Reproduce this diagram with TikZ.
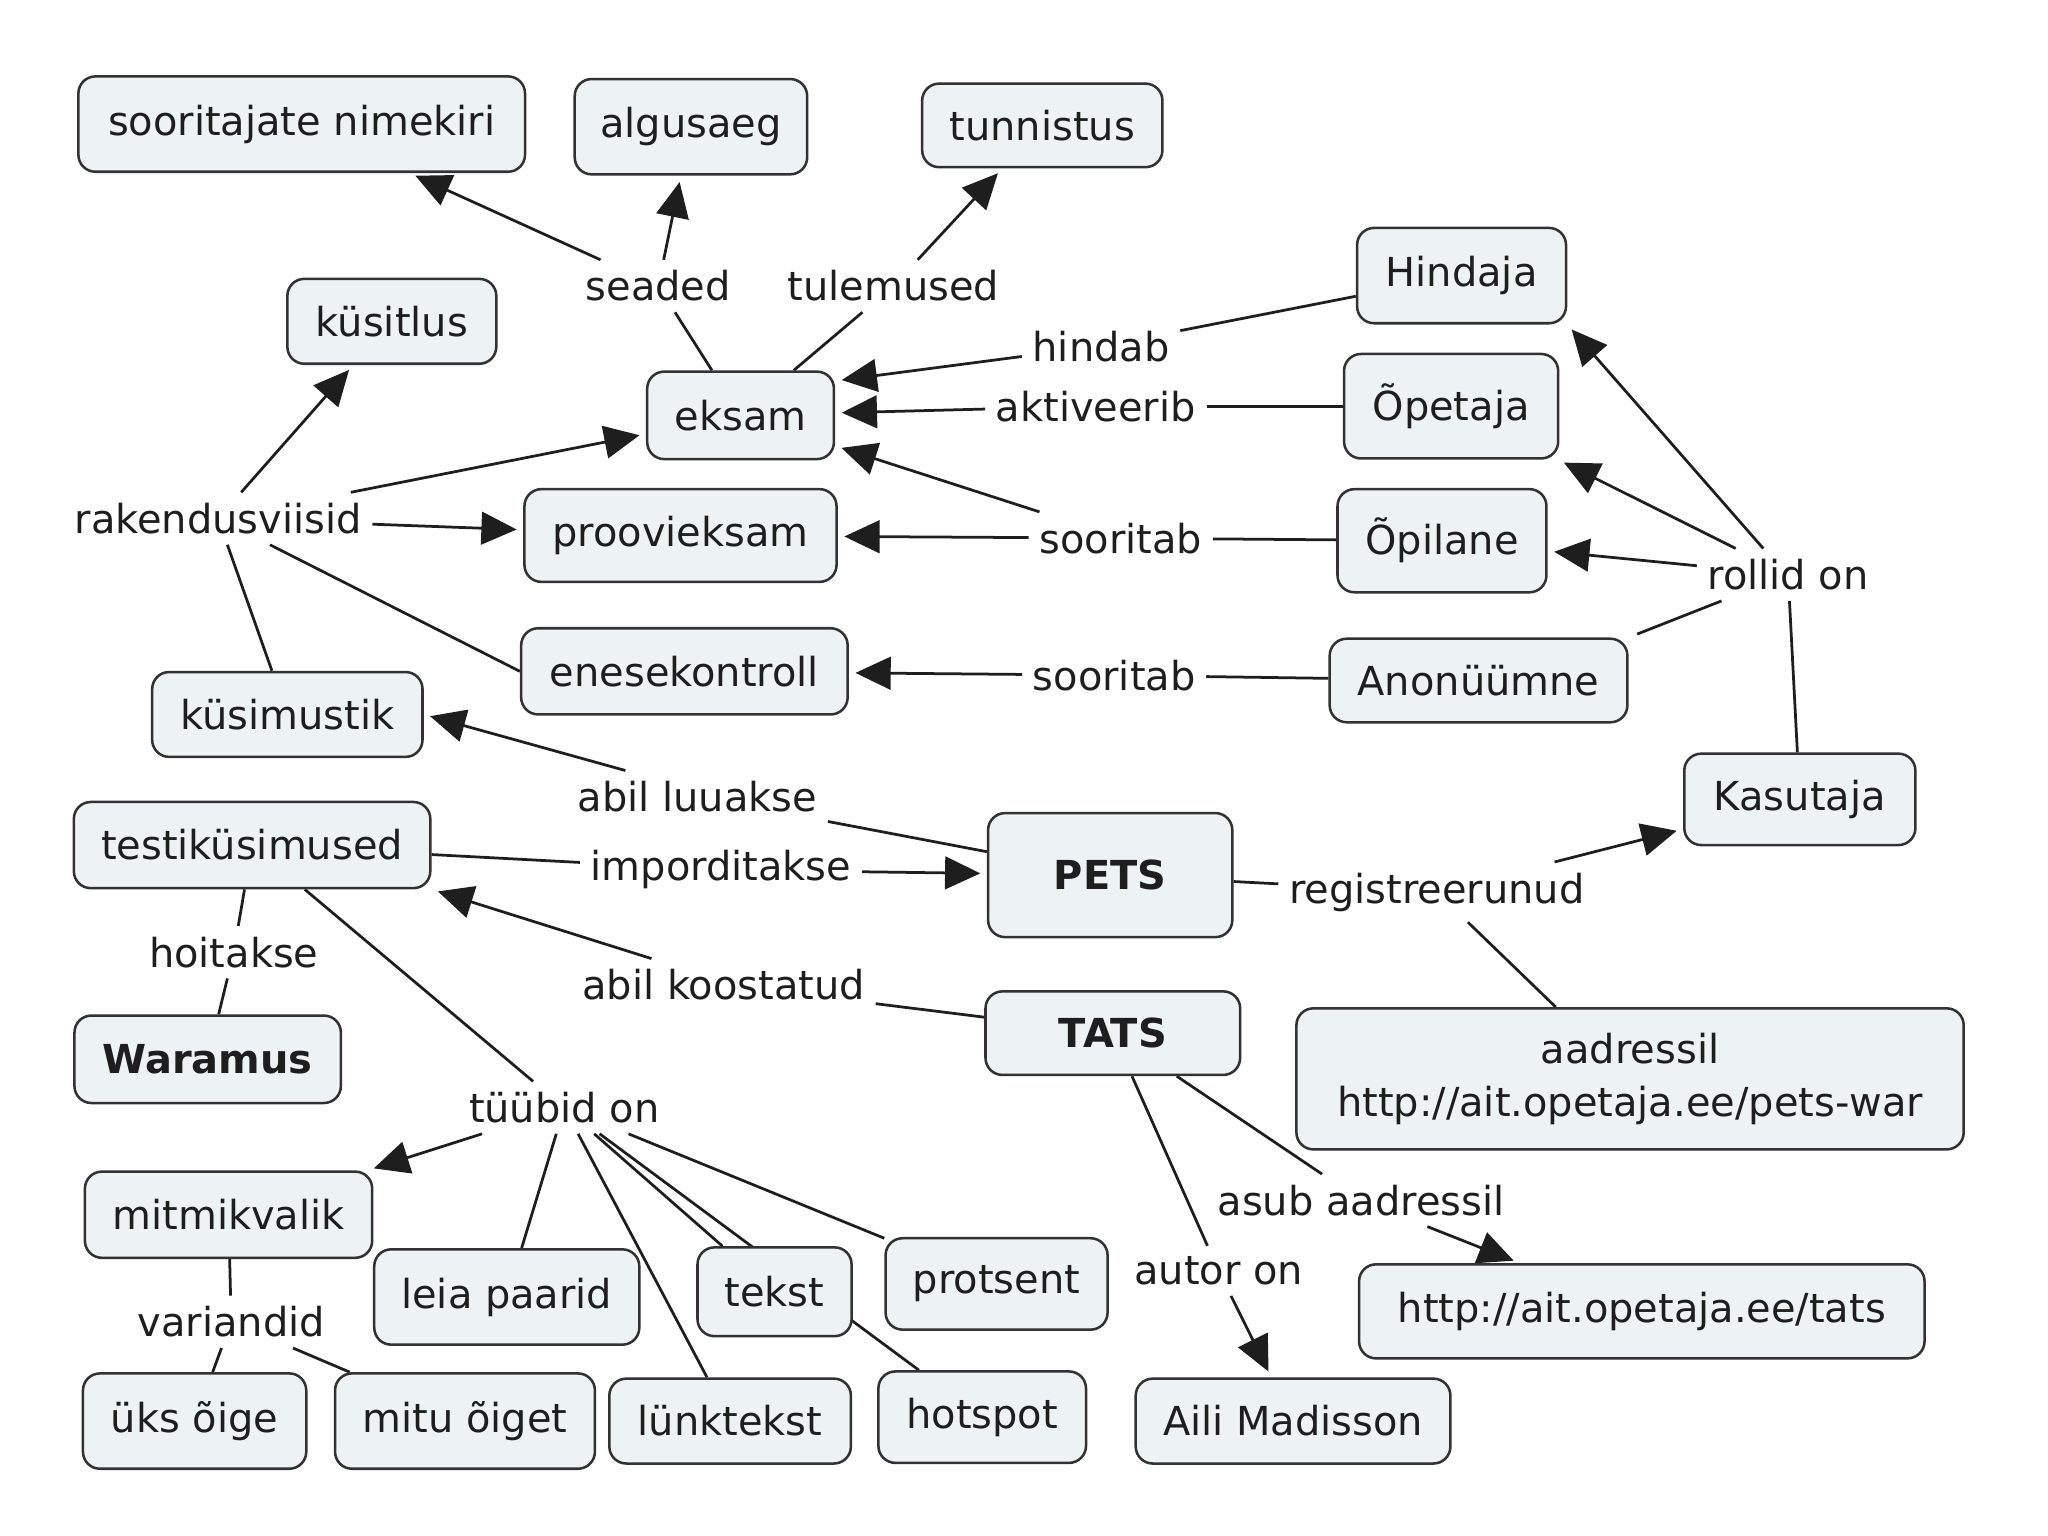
\documentclass[tikz,border=0pt]{standalone}
\usepackage{fontspec}
\setmainfont{DejaVu Sans}
\usepackage{tikz}
\usetikzlibrary{arrows.meta,backgrounds}

\definecolor{cfill}{RGB}{237,243,244}
\definecolor{cborder}{RGB}{50,50,50}
\definecolor{ctext}{RGB}{30,30,30}

\tikzset{
  concept/.style={draw=cborder, fill=cfill, line width=1.1pt, rounded corners=0.26cm,
    text=ctext, inner sep=0pt, minimum height=1.3cm, align=center},
  linklabel/.style={inner sep=4.5pt, text=ctext},
  link/.style={draw=ctext, line width=1.2pt},
  arr/.style={link, -{Triangle[length=0.54cm,width=0.5cm]}, shorten >=0.1cm}
}

\begin{document}
\begin{tikzpicture}[x=0.02cm,y=-0.02cm,font=\fontsize{17.4}{22.8}\selectfont]
\useasboundingbox (0,0) rectangle (1568,1176);

% Concepts, top row
\node[concept, minimum width=6.84cm, minimum height=1.46cm] (snimekiri) at (231,95) {sooritajate nimekiri};
\node[concept, minimum width=3.56cm, minimum height=1.46cm] (algusaeg) at (529,97) {algusaeg};
\node[concept, minimum width=3.68cm, minimum height=1.28cm] (tunnistus) at (798,96) {tunnistus};

% Concepts round eksam
\node[concept, minimum width=3.2cm] (kysitlus) at (300,246) {küsitlus};
\node[concept, minimum width=2.86cm, minimum height=1.34cm] (eksam) at (567,318) {eksam};
\node[concept, minimum width=4.78cm, minimum height=1.42cm] (proov) at (521,410) {proovieksam};
\node[concept, minimum width=5.0cm, minimum height=1.32cm] (enese) at (524,514) {enesekontroll};
\node[concept, minimum width=4.14cm] (kysimustik) at (220,547) {küsimustik};

% Roles
\node[concept, minimum width=3.2cm, minimum height=1.46cm] (hindaja) at (1119,211) {Hindaja};
\node[concept, minimum width=3.28cm, minimum height=1.6cm] (opetaja) at (1111,311) {Õpetaja};
\node[concept, minimum width=3.2cm, minimum height=1.58cm] (opilane) at (1104,414) {Õpilane};
\node[concept, minimum width=4.56cm, minimum height=1.28cm] (anon) at (1132,521) {Anonüümne};
\node[concept, minimum width=3.54cm, minimum height=1.4cm] (kasutaja) at (1378,612) {Kasutaja};

% Middle
\node[concept, minimum width=5.46cm, minimum height=1.32cm] (testk) at (193,647) {testiküsimused};
\node[concept, minimum width=3.74cm, minimum height=1.9cm] (pets) at (850,670) {\bfseries PETS};
\node[concept, minimum width=3.9cm, minimum height=1.28cm] (tats) at (852,791) {\bfseries TATS};
\node[concept, minimum width=10.22cm, minimum height=2.16cm] (petswar) at (1248,826) {aadressil\\http://ait.opetaja.ee/pets-war};
\node[concept, minimum width=4.08cm, minimum height=1.34cm] (waramus) at (159,811) {\bfseries Waramus};

% Question types
\node[concept, minimum width=4.4cm, minimum height=1.32cm] (mitmik) at (175,930) {mitmikvalik};
\node[concept, minimum width=4.06cm, minimum height=1.46cm] (leia) at (388,993) {leia paarid};
\node[concept, minimum width=2.36cm, minimum height=1.36cm] (tekst) at (593,989) {tekst};
\node[concept, minimum width=3.4cm, minimum height=1.4cm] (protsent) at (763,983) {protsent};
\node[concept, minimum width=3.42cm, minimum height=1.46cm] (yks) at (149,1088) {üks õige};
\node[concept, minimum width=3.98cm, minimum height=1.46cm] (mitu) at (356,1088) {mitu õiget};
\node[concept, minimum width=3.7cm] (lynk) at (559,1088) {lünktekst};
\node[concept, minimum width=3.18cm, minimum height=1.4cm] (hotspot) at (752,1085) {hotspot};

% Addresses and author
\node[concept, minimum width=8.66cm, minimum height=1.44cm] (tatsurl) at (1257,1004) {http://ait.opetaja.ee/tats};
\node[concept, minimum width=4.82cm] (aili) at (990,1088) {Aili Madisson};

% Linking phrases
\node[linklabel] (seaded) at (504,219) {seaded};
\node[linklabel] (tulemused) at (684,219) {tulemused};
\node[linklabel] (hindab) at (843,265) {hindab};
\node[linklabel] (aktiveerib) at (839,311) {aktiveerib};
\node[linklabel] (sooritab1) at (858,412) {sooritab};
\node[linklabel] (sooritab2) at (853,517) {sooritab};
\node[linklabel] (rakend) at (167,397) {rakendusviisid};
\node[linklabel] (rollid) at (1369,440) {rollid on};
\node[linklabel] (luuakse) at (534,610) {abil luuakse};
\node[linklabel] (import) at (552,666) {imporditakse};
\node[linklabel] (regist) at (1100,683) {registreerunud};
\node[linklabel] (koostatud) at (554,754) {abil koostatud};
\node[linklabel] (hoitakse) at (179,729) {hoitakse};
\node[linklabel] (tyybid) at (432,848) {tüübid on};
\node[linklabel] (asub) at (1042,919) {asub aadressil};
\node[linklabel] (autor) at (933,973) {autor on};
\node[linklabel] (variandid) at (177,1012) {variandid};

\begin{scope}[on background layer]
% eksam settings and results
\draw[link] (eksam) -- (seaded);
\draw[arr] (seaded) -- (snimekiri);
\draw[arr] (seaded) -- (algusaeg);
\draw[link] (eksam) -- (tulemused);
\draw[arr] (tulemused) -- (tunnistus);

% roles acting on the tests
\draw[link] (hindaja) -- (hindab);
\draw[arr] (hindab) -- (eksam.20);
\draw[link] (opetaja) -- (aktiveerib);
\draw[arr] (aktiveerib) -- (eksam);
\draw[link] (opilane) -- (sooritab1);
\draw[arr] (sooritab1) -- (eksam);
\draw[arr] (sooritab1) -- (proov);
\draw[link] (anon) -- (sooritab2);
\draw[arr] (sooritab2) -- (enese);

% rakendusviisid
\draw[link] (kysimustik) -- (rakend);
\draw[arr] (rakend) -- (kysitlus);
\draw[arr] (rakend) -- (eksam);
\draw[arr] (rakend) -- (proov);
\draw[link] (rakend) -- (enese.west);

% rollid on
\draw[link] (kasutaja) -- (rollid);
\draw[arr] ([xshift=-0.38cm]rollid.north) -- (hindaja.south east);
\draw[arr] (rollid) -- (opetaja);
\draw[arr] (rollid) -- (opilane);
\draw[link, shorten >=4pt] (rollid) -- (anon.north east);

% PETS and TATS
\draw[link] (pets) -- (luuakse);
\draw[arr] (luuakse.160) -- (kysimustik.east);
\draw[link] (testk) -- (import);
\draw[arr] (import) -- (pets);
\draw[link] (pets) -- (regist);
\draw[arr] (regist) -- (kasutaja);
\draw[link] (regist) -- (petswar);
\draw[link] (tats) -- (koostatud);
\draw[arr] (koostatud.160) -- (testk.south east);
\draw[link] (tats) -- (asub);
\draw[arr] (asub) -- (tatsurl);
\draw[link] (tats) -- (autor);
\draw[arr] (autor) -- (aili);

% testiküsimused
\draw[link] (testk) -- (hoitakse);
\draw[link] (hoitakse) -- (waramus);
\draw[link] (testk) -- (tyybid);
\draw[arr] (tyybid) -- (mitmik);
\draw[link] (tyybid) -- (leia);
\draw[link] (tyybid) -- (lynk);
\draw[link] (tyybid) -- (tekst);
\draw[link] (tyybid) -- (hotspot);   % runs behind tekst
\draw[link] (tyybid) -- (protsent);

% variandid
\draw[link] (mitmik) -- (variandid);
\draw[link] (variandid) -- (yks);
\draw[link] (variandid) -- (mitu);
\end{scope}

\end{tikzpicture}
\end{document}
